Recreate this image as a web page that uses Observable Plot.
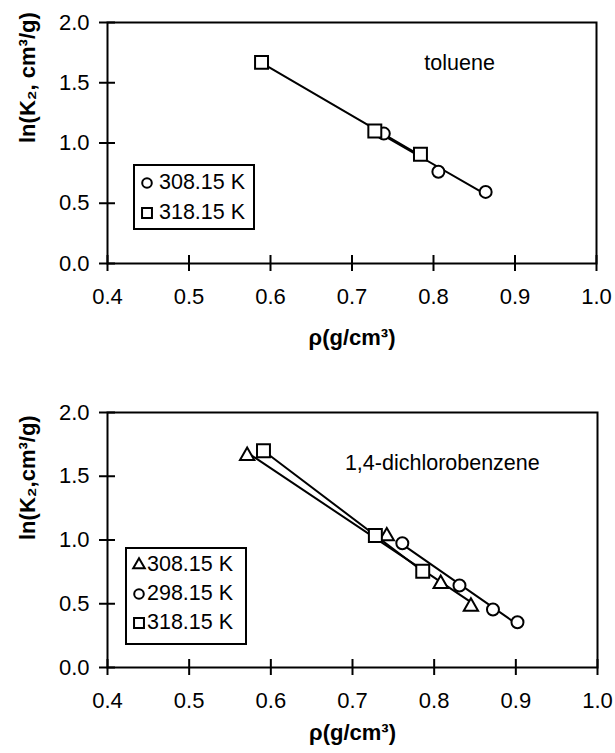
<!DOCTYPE html>
<html><head><meta charset="utf-8">
<script src="https://cdn.jsdelivr.net/npm/d3@7"></script>
<script src="https://cdn.jsdelivr.net/npm/@observablehq/plot@0.6"></script>
<style>
body{margin:0;background:#fff;font-family:"Liberation Sans",Arial,Helvetica,sans-serif;}
#wrap{position:relative;width:615px;height:753px;overflow:hidden;}
.panel{position:absolute;left:0;}
.legend{position:absolute;border:2px solid #000;background:#fff;box-sizing:border-box;font-size:21.5px;color:#000;}
.legend .row{position:absolute;display:flex;align-items:center;white-space:nowrap;line-height:1;}
.legend svg{position:absolute;overflow:visible;}
</style>
</head><body><div id="wrap"></div>
<script>
// ---- axes
const xTicks = [0.4, 0.5, 0.6, 0.7, 0.8, 0.9, 1.0];
const yTicks = [0.0, 0.5, 1.0, 1.5, 2.0];
const xLabel = "ρ(g/cm³)";
const yLabelTop = "ln(K₂, cm³/g)";
const yLabelBottom = "ln(K₂,cm³/g)";

// ---- toluene panel
const tolueneSeries = ["308.15 K", "318.15 K"];
const tol308x = [0.739, 0.806, 0.864];
const tol308y = [1.078, 0.761, 0.594];
const tol318x = [0.589, 0.728, 0.784];
const tol318y = [1.669, 1.100, 0.906];

// ---- 1,4-dichlorobenzene panel
const dcbSeries = ["308.15 K", "298.15 K", "318.15 K"];
const dcb308x = [0.571, 0.742, 0.808, 0.845];
const dcb308y = [1.660, 1.030, 0.656, 0.478];
const dcb298x = [0.761, 0.831, 0.872, 0.902];
const dcb298y = [0.975, 0.643, 0.455, 0.355];
const dcb318x = [0.591, 0.728, 0.786];
const dcb318y = [1.700, 1.035, 0.755];

// ---- annotations
const tolueneNote = [{x: 0.832, y: 1.667, text: "toluene"}];
const dcbNote = [{x: 0.810, y: 1.600, text: "1,4-dichlorobenzene"}];

const symbolSize = {circle: 6, square: 7.3, triangle: 5.3};

function rows(series, symbol, xs, ys) {
  return xs.map((x, i) => ({x, y: ys[i], s: series, symbol}));
}

function panel({top, height, marginTop, marginBottom, marginRight, groups, yLabel, note, xLabelDy}) {
  const data = groups.flat();
  const innerH = height - marginTop - marginBottom;
  const innerW = 615 - 107 - marginRight;
  const symbols = [...new Set(data.map(d => d.symbol))];
  const plot = Plot.plot({
    width: 615,
    height,
    marginLeft: 107,
    marginRight,
    marginTop,
    marginBottom,
    style: {fontFamily: "'Liberation Sans', Arial, Helvetica, sans-serif", background: "#fff", color: "#000", overflow: "visible"},
    x: {domain: [0.4, 1.0]},
    y: {domain: [0, 2]},
    marks: [
      Plot.frame({stroke: "#000", strokeWidth: 2}),
      Plot.axisX({ticks: xTicks, tickSize: 8, tickPadding: 17, tickFormat: d3.format(".1f"), fontSize: 22, strokeWidth: 2, label: null}),
      Plot.ruleX(xTicks, {x: d => d, insetTop: innerH - 8, stroke: "#000", strokeWidth: 2}),
      Plot.axisY({ticks: yTicks, tickSize: 8, tickPadding: 10, tickFormat: d3.format(".1f"), fontSize: 22, strokeWidth: 2, label: null}),
      Plot.ruleY(yTicks, {y: d => d, insetRight: innerW - 8, stroke: "#000", strokeWidth: 2}),
      Plot.linearRegressionY(data, {x: "x", y: "y", z: "s", ci: 0, stroke: "#000", strokeWidth: 2}),
      ...symbols.map(sym => Plot.dot(data.filter(d => d.symbol === sym), {x: "x", y: "y", symbol: sym, r: symbolSize[sym], fill: "#fff", stroke: "#000", strokeWidth: 2})),
      Plot.text(note, {x: "x", y: "y", text: "text", fontSize: 21.5, fill: "#000"}),
      Plot.text([yLabel], {text: d => d, frameAnchor: "left", dx: -80, rotate: -90, fontSize: 22, fontWeight: "bold", fill: "#000"}),
      Plot.text([xLabel], {text: d => d, frameAnchor: "bottom", dy: xLabelDy, fontSize: 22, fontWeight: "bold", fill: "#000"})
    ]
  });
  plot.classList.add("panel");
  plot.style.top = top + "px";
  return plot;
}

function legend({left, top, width, height, items, symX, textX, rowY}) {
  const box = document.createElement("div");
  box.className = "legend";
  Object.assign(box.style, {left: left + "px", top: top + "px", width: width + "px", height: height + "px"});
  items.forEach((it, i) => {
    const svg = d3.create("svg").attr("width", 1).attr("height", 1)
      .style("left", symX + "px").style("top", rowY[i] + "px");
    const typ = it.symbol === "circle" ? d3.symbolCircle : it.symbol === "square" ? d3.symbolSquare : d3.symbolTriangle;
    const r = {circle: 4.8, square: 5.6, triangle: 4.3}[it.symbol];
    svg.append("path").attr("d", d3.symbol(typ, Math.PI * r * r)()).attr("fill", "#fff").attr("stroke", "#000").attr("stroke-width", 2);
    box.appendChild(svg.node());
    const row = document.createElement("div");
    row.className = "row";
    row.textContent = it.label;
    Object.assign(row.style, {left: textX + "px", top: (rowY[i] - 11) + "px"});
    box.appendChild(row);
  });
  return box;
}

const wrap = document.getElementById("wrap");

wrap.appendChild(panel({
  top: 0, height: 372, marginTop: 22, marginBottom: 109, marginRight: 19,
  groups: [rows(tolueneSeries[0], "circle", tol308x, tol308y), rows(tolueneSeries[1], "square", tol318x, tol318y)],
  yLabel: yLabelTop, note: tolueneNote, xLabelDy: 81
}));
wrap.appendChild(panel({
  top: 372, height: 381, marginTop: 40, marginBottom: 86, marginRight: 18,
  groups: [rows(dcbSeries[0], "triangle", dcb308x, dcb308y), rows(dcbSeries[1], "circle", dcb298x, dcb298y), rows(dcbSeries[2], "square", dcb318x, dcb318y)],
  yLabel: yLabelBottom, note: dcbNote, xLabelDy: 72
}));

wrap.appendChild(legend({
  left: 133, top: 164, width: 122, height: 66,
  items: [{label: tolueneSeries[0], symbol: "circle"}, {label: tolueneSeries[1], symbol: "square"}],
  symX: 12, textX: 24, rowY: [17, 47]
}));
wrap.appendChild(legend({
  left: 125, top: 547, width: 122, height: 98,
  items: [{label: dcbSeries[0], symbol: "triangle"}, {label: dcbSeries[1], symbol: "circle"}, {label: dcbSeries[2], symbol: "square"}],
  symX: 12, textX: 20, rowY: [16, 45, 74]
}));
</script>
</body></html>
